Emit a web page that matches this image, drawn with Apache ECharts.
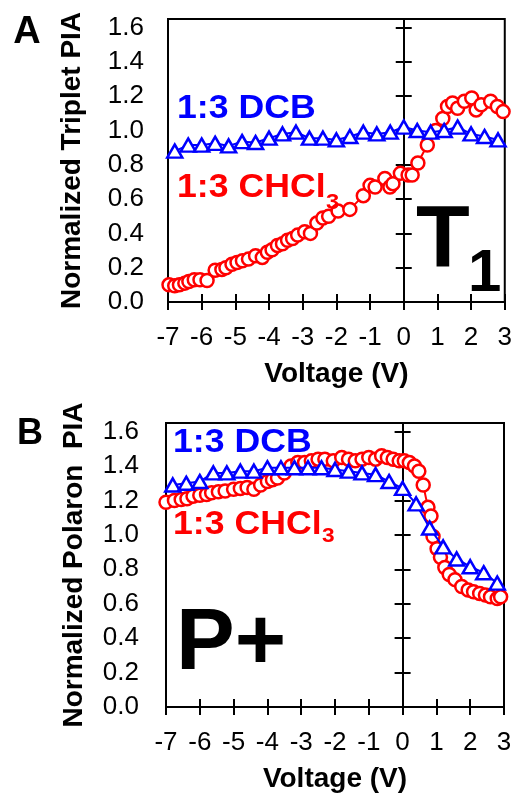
<!DOCTYPE html>
<html><head><meta charset="utf-8">
<script src="https://cdn.jsdelivr.net/npm/echarts@6/dist/echarts.min.js"></script>
<style>html,body{margin:0;padding:0;background:#fff}#c{width:515px;height:795px}</style>
</head><body><div id="c"></div>
<script>
// ---------- data ----------
const dcbVoltage = [-6.8,-6.4,-6.0,-5.6,-5.2,-4.8,-4.4,-4.0,-3.6,-3.2,-2.8,-2.4,-2.0,-1.6,-1.2,-0.8,-0.4,0.0,0.4,0.8,1.2,1.6,2.0,2.4,2.8];
const tripletDCB = [0.88,0.915,0.915,0.925,0.91,0.935,0.93,0.955,0.98,0.99,0.955,0.955,0.945,0.965,0.99,0.98,0.99,1.02,1.00,0.99,1.00,1.02,0.98,0.965,0.945];
const tripletCHCl3 = [[-6.97,0.10],[-6.80,0.095],[-6.66,0.10],[-6.50,0.11],[-6.38,0.12],[-6.22,0.13],[-6.05,0.13],[-5.84,0.125],[-5.60,0.185],[-5.40,0.19],[-5.28,0.20],[-5.10,0.22],[-4.95,0.23],[-4.79,0.24],[-4.61,0.25],[-4.40,0.27],[-4.20,0.26],[-4.05,0.29],[-3.91,0.305],[-3.75,0.33],[-3.60,0.34],[-3.45,0.36],[-3.30,0.37],[-3.15,0.39],[-2.94,0.41],[-2.77,0.40],[-2.58,0.46],[-2.40,0.49],[-2.23,0.50],[-1.95,0.53],[-1.60,0.54],[-1.20,0.62],[-1.00,0.68],[-0.85,0.67],[-0.56,0.72],[-0.41,0.67],[-0.32,0.69],[-0.10,0.75],[0.13,0.74],[0.25,0.74],[0.42,0.81],[0.70,0.915],[0.95,1.00],[1.16,1.07],[1.30,1.14],[1.45,1.16],[1.60,1.13],[1.80,1.17],[2.02,1.19],[2.15,1.12],[2.30,1.15],[2.58,1.17],[2.78,1.14],[2.95,1.11]];
const polaronDCB = [1.29,1.30,1.31,1.36,1.36,1.37,1.37,1.39,1.39,1.39,1.39,1.39,1.38,1.37,1.36,1.35,1.31,1.27,1.18,1.04,0.93,0.86,0.815,0.78,0.72];
const polaronCHCl3 = [[-7.0,1.19],[-6.75,1.20],[-6.55,1.205],[-6.38,1.21],[-6.2,1.225],[-6.0,1.23],[-5.8,1.235],[-5.65,1.245],[-5.45,1.25],[-5.25,1.255],[-5.0,1.265],[-4.8,1.27],[-4.6,1.275],[-4.4,1.265],[-4.2,1.29],[-4.0,1.31],[-3.85,1.32],[-3.7,1.33],[-3.5,1.36],[-3.3,1.40],[-3.1,1.42],[-2.9,1.42],[-2.7,1.43],[-2.5,1.44],[-2.3,1.44],[-2.05,1.43],[-1.8,1.45],[-1.6,1.44],[-1.4,1.43],[-1.2,1.44],[-1.0,1.45],[-0.8,1.44],[-0.62,1.46],[-0.45,1.45],[-0.28,1.44],[-0.1,1.43],[0.05,1.43],[0.2,1.42],[0.35,1.40],[0.48,1.37],[0.61,1.29],[0.75,1.16],[0.84,1.11],[0.9,0.99],[1.02,0.92],[1.12,0.87],[1.25,0.81],[1.38,0.77],[1.55,0.74],[1.75,0.70],[1.94,0.68],[2.1,0.67],[2.28,0.66],[2.45,0.65],[2.6,0.64],[2.8,0.63],[2.9,0.64]];
const xRange = [-7, 3];
const yRange = [0, 1.65];
const yTitles = ['Normalized Triplet PIA', 'Normalized Polaron  PIA'];
const xTitle = 'Voltage (V)';

// ---------- chart ----------
const FONT = '"Liberation Sans", Arial, sans-serif';
const chart = echarts.init(document.getElementById('c'), null, {renderer: 'canvas'});

const grids = [
  {left: 168, top: 19, width: 339, height: 283},
  {left: 166, top: 423, width: 338, height: 284}
];
const yMargin = [24, 27];
const yNameGap = [82, 78];

const xAxes = [], yAxes = [];
grids.forEach((g, i) => {
  xAxes.push({
    gridIndex: i, type: 'value', min: xRange[0], max: xRange[1], interval: 1, position: 'bottom',
    axisLine: {onZero: false, lineStyle: {color: '#000', width: 2}},
    axisTick: {show: true, inside: false, length: 8, lineStyle: {color: '#000', width: 2}},
    axisLabel: {color: '#000', fontSize: 26, fontFamily: FONT, margin: 23},
    splitLine: {show: false},
    name: xTitle, nameLocation: 'middle', nameGap: 58,
    nameTextStyle: {color: '#000', fontSize: 28, fontWeight: 'bold', fontFamily: FONT}
  });
  xAxes.push({
    gridIndex: i, type: 'value', min: xRange[0], max: xRange[1], interval: 1, position: 'bottom',
    axisLine: {show: false, onZero: false},
    axisTick: {show: true, inside: true, length: 8, lineStyle: {color: '#000', width: 2}},
    axisLabel: {show: false}, splitLine: {show: false}
  });
  const fmt = v => (Math.abs(v * 5 - Math.round(v * 5)) < 1e-6 ? v.toFixed(1) : '');
  yAxes.push({
    gridIndex: i, type: 'value', min: yRange[0], max: yRange[1], interval: 0.2, position: 'left',
    axisLine: {show: false, onZero: false}, axisTick: {show: false},
    axisLabel: {color: '#000', fontSize: 26, fontFamily: FONT, margin: yMargin[i], formatter: fmt},
    splitLine: {show: false},
    name: yTitles[i], nameLocation: 'middle', nameRotate: 90, nameGap: yNameGap[i],
    nameTextStyle: {color: '#000', fontSize: 28, fontWeight: 'bold', fontFamily: FONT}
  });
  yAxes.push({
    gridIndex: i, type: 'value', min: yRange[0], max: yRange[1], interval: 0.2, position: 'left',
    axisLine: {show: true, onZero: true, onZeroAxisIndex: i * 2, lineStyle: {color: '#000', width: 2}},
    axisTick: {show: true, inside: false, length: 8, lineStyle: {color: '#000', width: 2}},
    axisLabel: {show: false}, splitLine: {show: false}
  });
  yAxes.push({
    gridIndex: i, type: 'value', min: yRange[0], max: yRange[1], interval: 0.2, position: 'left',
    axisLine: {show: false, onZero: true, onZeroAxisIndex: i * 2},
    axisTick: {show: true, inside: true, length: 8, lineStyle: {color: '#000', width: 2}},
    axisLabel: {show: false}, splitLine: {show: false}
  });
});

function redSeries(data, gi) {
  return {
    type: 'line', xAxisIndex: gi * 2, yAxisIndex: gi * 3, data: data,
    symbol: 'circle', symbolSize: 13, showAllSymbol: true,
    lineStyle: {color: '#ff0000', width: 2},
    itemStyle: {color: '#ffffff', borderColor: '#ff0000', borderWidth: 2.5},
    z: 3
  };
}
function blueSeries(vals, gi) {
  return {
    type: 'line', xAxisIndex: gi * 2, yAxisIndex: gi * 3,
    data: dcbVoltage.map((v, k) => [v, vals[k]]),
    symbol: 'triangle', symbolSize: [15, 13], showAllSymbol: true,
    lineStyle: {color: '#0000ff', width: 2},
    itemStyle: {color: '#ffffff', borderColor: '#0000ff', borderWidth: 2.5},
    z: 4
  };
}

function txt(text, x, y, size, color, opts) {
  opts = opts || {};
  return {
    type: 'text', x: x, y: y, scaleX: opts.sx || 1, z: 10,
    style: {text: text, fill: color, fontSize: size, fontWeight: 'bold', fontFamily: FONT,
      textAlign: opts.align || 'left', textVerticalAlign: 'middle'}
  };
}

chart.setOption({
  animation: false,
  backgroundColor: '#fff',
  grid: grids.map(g => Object.assign({show: true, borderColor: '#000', borderWidth: 2, backgroundColor: 'transparent'}, g)),
  xAxis: xAxes,
  yAxis: yAxes,
  series: [
    redSeries(tripletCHCl3, 0), blueSeries(tripletDCB, 0),
    redSeries(polaronCHCl3, 1), blueSeries(polaronDCB, 1)
  ],
  graphic: [
    txt('A', 27, 33, 38, '#000', {align: 'center'}),
    txt('B', 30, 434, 36, '#000', {align: 'center'}),
    txt('1:3 DCB', 177, 109, 33, '#0000ff', {sx: 1.08}),
    txt('1:3 CHCl', 177, 188, 33, '#ff0000', {sx: 1.08}),
    txt('3', 326, 203, 22, '#ff0000', {sx: 1.08}),
    txt('T', 416, 242, 88, '#000'),
    txt('1', 468, 274, 60, '#000'),
    txt('1:3 DCB', 173, 443, 33, '#0000ff', {sx: 1.08}),
    txt('1:3 CHCl', 173, 525, 33, '#ff0000', {sx: 1.08}),
    txt('3', 322, 536, 21, '#ff0000', {sx: 1.08}),
    txt('P+', 176, 645, 88, '#000')
  ]
});
</script></body></html>
